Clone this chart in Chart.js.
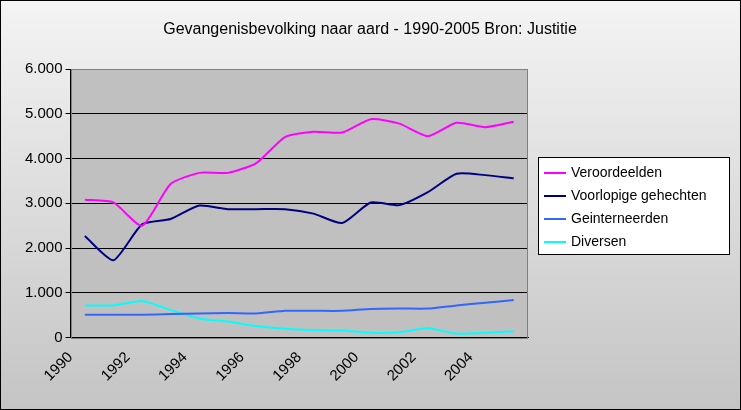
<!DOCTYPE html><html><head><meta charset="utf-8">
<script src="https://cdn.jsdelivr.net/npm/chart.js@4"></script>
<style>html,body{margin:0;padding:0;background:#fff}#w{width:741px;height:410px}</style></head><body>
<div id="w"><canvas id="c" width="741" height="410"></canvas></div>
<script>
const years=[1990,1991,1992,1993,1994,1995,1996,1997,1998,1999,2000,2001,2002,2003,2004,2005];
const veroordeelden=[3080,3020,2500,3430,3680,3680,3900,4480,4600,4580,4880,4780,4500,4800,4700,4820];
const voorlopige=[2270,1730,2530,2650,2950,2870,2870,2870,2770,2560,3020,2960,3250,3660,3630,3560];
const geinterneerden=[510,510,510,530,540,550,540,600,600,600,640,650,650,720,780,840];
const diversen=[720,720,820,620,430,360,260,200,170,160,110,120,210,90,110,140];
const names=['Veroordeelden','Voorlopige gehechten','Geinterneerden','Diversen'];
const colors=['#ff00ff','#000080','#3366ff','#00ffff'];
const title='Gevangenisbevolking naar aard - 1990-2005 Bron: Justitie';
const series=[veroordeelden,voorlopige,geinterneerden,diversen];
const pts=a=>a.map((v,i)=>({x:i+0.5,y:v}));
const font='"Liberation Sans", Arial, sans-serif';
const fmt=v=>v===0?'0':(Math.floor(v/1000)+'.'+String(v%1000).padStart(3,'0'));
const bg={id:'bg',beforeDraw(c){const x=c.ctx;const g=x.createLinearGradient(0,0,0,410);g.addColorStop(0,'#f4f4f4');g.addColorStop(1,'#c4c4c4');x.save();x.fillStyle=g;x.fillRect(0,0,741,410);x.strokeStyle='#000';x.lineWidth=1;x.strokeRect(0.5,0.5,740,409);
const a=c.chartArea;x.fillStyle='#c0c0c0';x.fillRect(a.left,a.top,a.right-a.left,a.bottom-a.top);
x.fillStyle='#000';x.font='16px '+font;x.textAlign='center';x.textBaseline='middle';x.fillText(title,370,30);x.restore();},
afterDraw(c){const x=c.ctx;const a=c.chartArea;x.save();x.strokeStyle='#808080';x.lineWidth=1;x.strokeRect(Math.round(a.left)+0.5,Math.round(a.top)+0.5,Math.round(a.right-a.left)-1,Math.round(a.bottom-a.top));
x.fillStyle='#fff';x.strokeStyle='#000';x.fillRect(538,157,192,98);x.strokeRect(538.5,157.5,191,97);
x.font='14px '+font;x.textBaseline='middle';
names.forEach((n,i)=>{const y=173+i*23;x.strokeStyle=colors[i];x.lineWidth=2;x.beginPath();x.moveTo(544,y);x.lineTo(566,y);x.stroke();x.fillStyle='#000';x.fillText(n,571,y);});
x.restore();}};
new Chart(document.getElementById('c'),{type:'line',
data:{datasets:series.map((s,i)=>({label:names[i],data:pts(s),borderColor:colors[i],borderWidth:2,pointRadius:0,tension:0.2,fill:false}))},
options:{responsive:false,animation:false,layout:{padding:{left:22,right:213,top:69,bottom:22}},
plugins:{legend:{display:false},tooltip:{enabled:false},title:{display:false}},
scales:{x:{type:'linear',min:0,max:16,grid:{display:false,drawTicks:true},border:{color:'#000'},
ticks:{stepSize:1,autoSkip:false,maxRotation:45,minRotation:45,color:'#000',font:{family:font,size:15},callback:v=>(v%2===0&&v<=14)?String(years[v]):''}},
y:{min:0,max:6000,grid:{color:'#000',drawTicks:true,tickLength:5},border:{color:'#000'},ticks:{stepSize:1000,color:'#000',font:{family:font,size:15},callback:v=>fmt(v)}}}},
plugins:[bg]});
</script></body></html>
